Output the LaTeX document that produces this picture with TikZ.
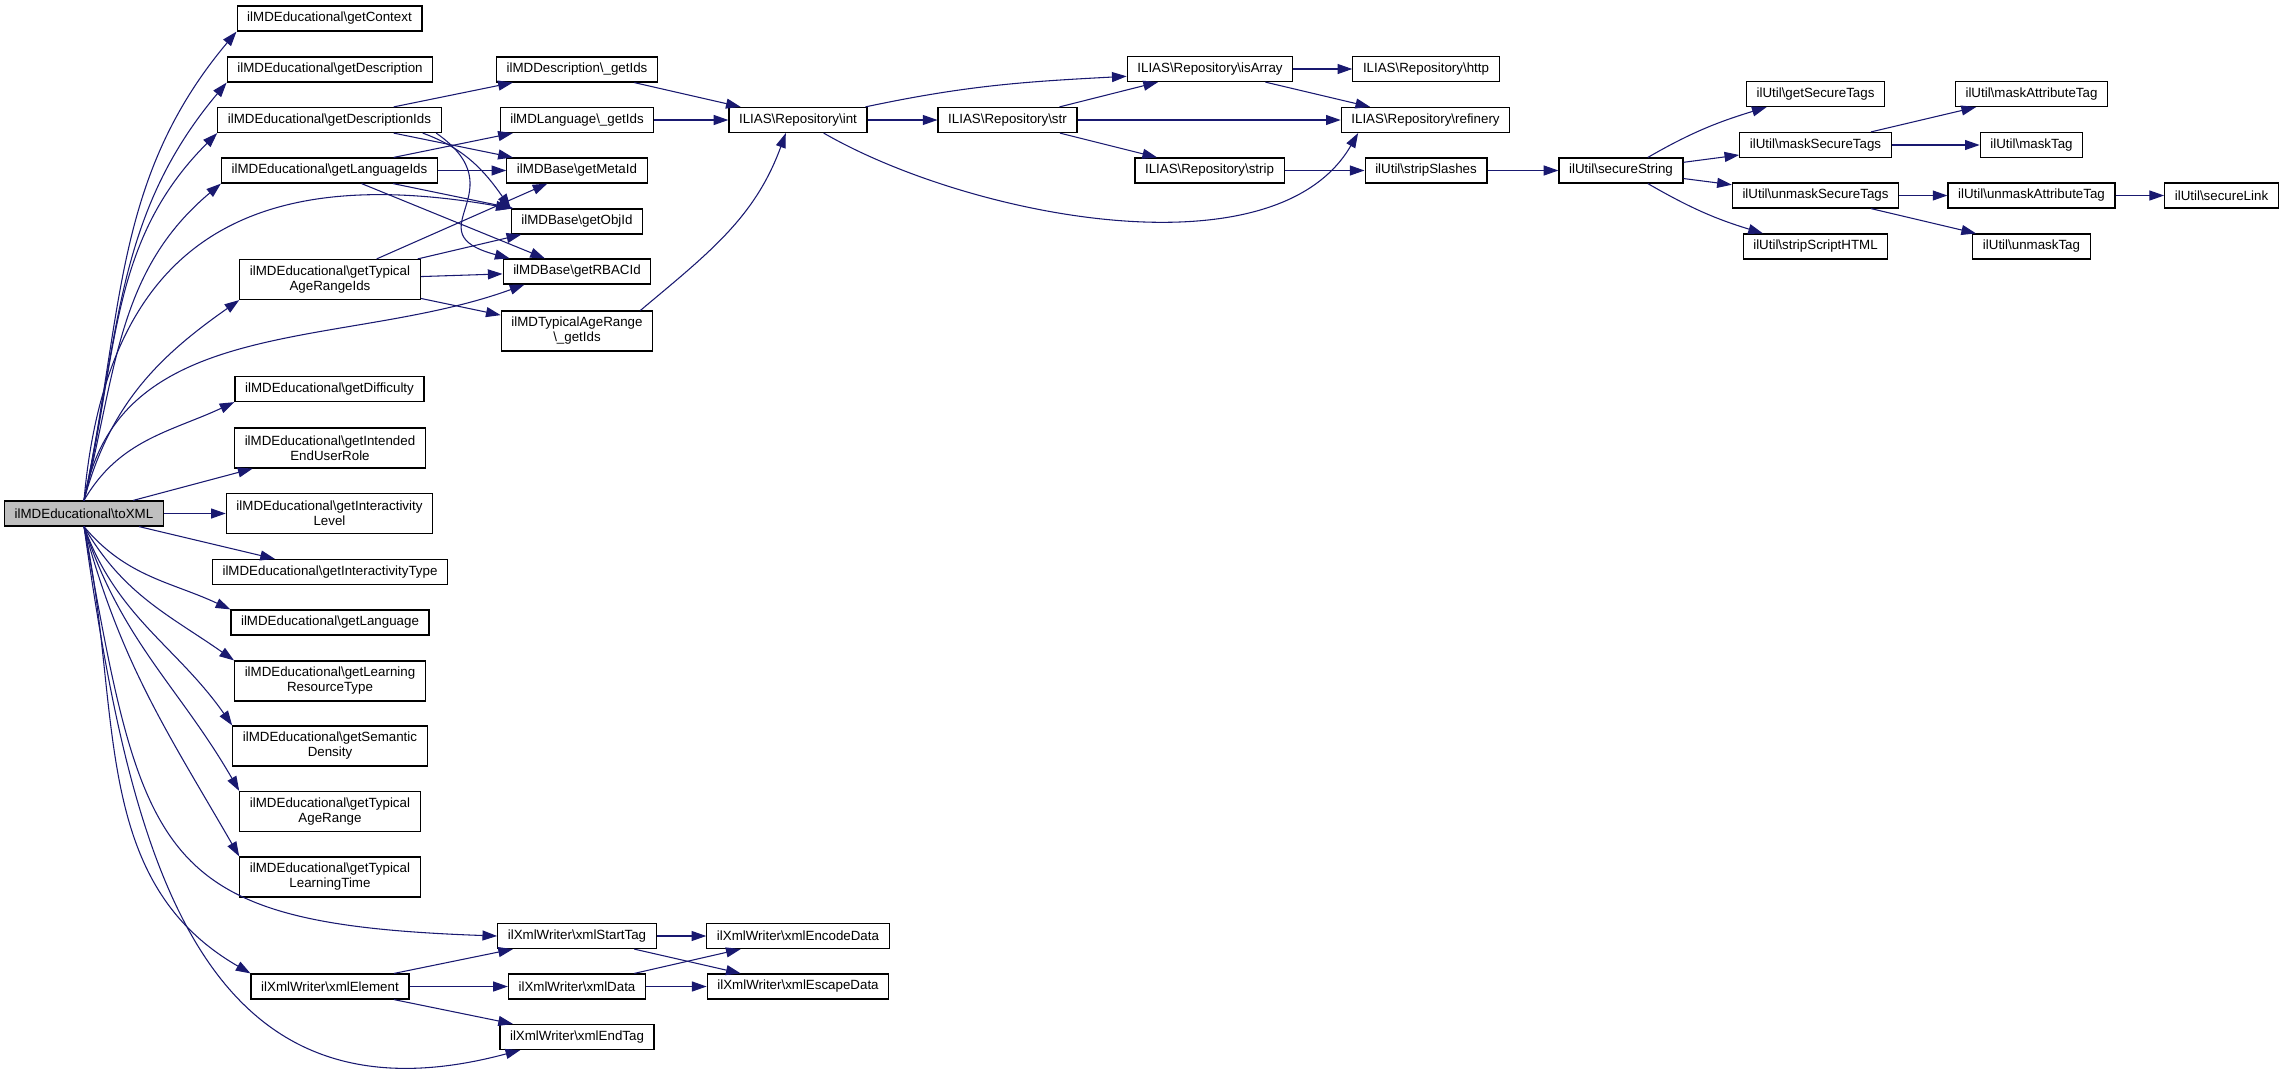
\documentclass[tikz,border=0pt]{standalone}
\usepackage{fontspec}
\setmainfont{Liberation Sans}
\usetikzlibrary{arrows.meta}
\definecolor{edgeblue}{RGB}{25,25,112}
\definecolor{hlgray}{RGB}{191,191,191}
\newcommand{\bsl}{\textbackslash}

\begin{document}
\begin{tikzpicture}[x=0.75pt, y=0.75pt,
    fn/.style={draw, fill=white, line width=0.9pt, inner xsep=7.6pt, inner ysep=0pt,
      minimum height=18.75pt, align=center, font=\fontsize{10}{11.25}\selectfont},
    fn2/.style={fn, minimum height=30pt},
    hl/.style={fn, fill=hlgray},
    call/.style={draw=edgeblue, line width=0.8pt, -{Triangle[length=11pt,width=7.5pt]}}]
    \useasboundingbox (0,0) rectangle (2285,-1072);

    \node [hl] (toxml) at (84,-513.5) {ilMDEducational\bsl toXML};

    \node [fn] (ctx) at (329.5,-18.5) {ilMDEducational\bsl getContext};
    \node [fn] (desc) at (330,-69.5) {ilMDEducational\bsl getDescription};
    \node [fn] (descids) at (329.5,-120) {ilMDEducational\bsl getDescriptionIds};
    \node [fn] (langids) at (329.5,-170.5) {ilMDEducational\bsl getLanguageIds};
    \node [fn2] (tarids) at (330,-279.5) {ilMDEducational\bsl getTypical\\AgeRangeIds};
    \node [fn] (diff) at (329.5,-389) {ilMDEducational\bsl getDifficulty};
    \node [fn2] (role) at (330,-448) {ilMDEducational\bsl getIntended\\EndUserRole};
    \node [fn2] (ilevel) at (329.5,-513.5) {ilMDEducational\bsl getInteractivity\\Level};
    \node [fn] (itype) at (330,-572) {ilMDEducational\bsl getInteractivityType};
    \node [fn] (lang) at (330,-622.5) {ilMDEducational\bsl getLanguage};
    \node [fn2] (lrt) at (330,-681) {ilMDEducational\bsl getLearning\\ResourceType};
    \node [fn2] (sem) at (330,-746) {ilMDEducational\bsl getSemantic\\Density};
    \node [fn2] (tar) at (330,-811.5) {ilMDEducational\bsl getTypical\\AgeRange};
    \node [fn2] (tlt) at (330,-877) {ilMDEducational\bsl getTypical\\LearningTime};
    \node [fn] (xmlel) at (330,-986.5) {ilXmlWriter\bsl xmlElement};

    \node [fn] (descget) at (577,-69.5) {ilMDDescription\bsl\_getIds};
    \node [fn] (langget) at (577,-120) {ilMDLanguage\bsl\_getIds};
    \node [fn] (metaid) at (577,-170.5) {ilMDBase\bsl getMetaId};
    \node [fn] (objid) at (577,-221.5) {ilMDBase\bsl getObjId};
    \node [fn] (rbacid) at (577,-271.5) {ilMDBase\bsl getRBACId};
    \node [fn2] (targe) at (577,-331) {ilMDTypicalAgeRange\\\bsl\_getIds};
    \node [fn] (starttag) at (577,-936) {ilXmlWriter\bsl xmlStartTag};
    \node [fn] (xmldata) at (577,-986.5) {ilXmlWriter\bsl xmlData};
    \node [fn] (endtag) at (577,-1037) {ilXmlWriter\bsl xmlEndTag};

    \node [fn] (int) at (798,-120) {ILIAS\bsl Repository\bsl int};
    \node [fn] (encode) at (798,-936) {ilXmlWriter\bsl xmlEncodeData};
    \node [fn] (escape) at (798,-986.5) {ilXmlWriter\bsl xmlEscapeData};
    \node [fn] (str) at (1007.5,-120) {ILIAS\bsl Repository\bsl str};
    \node [fn] (isarray) at (1210,-69) {ILIAS\bsl Repository\bsl isArray};
    \node [fn] (strip) at (1209.5,-170.5) {ILIAS\bsl Repository\bsl strip};
    \node [fn] (http) at (1426,-69) {ILIAS\bsl Repository\bsl http};
    \node [fn] (refinery) at (1425.5,-120) {ILIAS\bsl Repository\bsl refinery};
    \node [fn] (slashes) at (1426,-170.5) {ilUtil\bsl stripSlashes};
    \node [fn] (secstr) at (1621,-170.5) {ilUtil\bsl secureString};

    \node [fn] (gettags) at (1815.5,-94) {ilUtil\bsl getSecureTags};
    \node [fn] (masktags) at (1815.5,-145) {ilUtil\bsl maskSecureTags};
    \node [fn] (unmasktags) at (1815.5,-195.5) {ilUtil\bsl unmaskSecureTags};
    \node [fn] (scripthtml) at (1815.5,-246.5) {ilUtil\bsl stripScriptHTML};
    \node [fn] (maskattr) at (2031.5,-94) {ilUtil\bsl maskAttributeTag};
    \node [fn] (masktag) at (2031.5,-145) {ilUtil\bsl maskTag};
    \node [fn] (unmaskattr) at (2031.5,-195.5) {ilUtil\bsl unmaskAttributeTag};
    \node [fn] (unmasktag) at (2031.5,-246.5) {ilUtil\bsl unmaskTag};
    \node [fn] (securelink) at (2221.5,-195.5) {ilUtil\bsl secureLink};

    % calls of toXML
    \draw [call] (toxml.north) to[out=78,in=-130] (ctx.south west);
    \draw [call] (toxml.north) to[out=78,in=-130] (desc.south west);
    \draw [call] (toxml.north) to[out=77,in=-135] (descids.south west);
    \draw [call] (toxml.north) to[out=76,in=-140] (langids.south west);
    \draw [call] (toxml.north) to[out=85,in=170,looseness=1.3] (objid.north west);
    \draw [call] (toxml.north) to[out=75,in=-145] (tarids.south west);
    \draw [call] (toxml.north) to[out=80,in=-160] (rbacid.194);
    \draw [call] (toxml.north) to[out=60,in=-155] (diff.south west);
    \draw [call] (toxml) -- (role);
    \draw [call] (toxml) -- (ilevel);
    \draw [call] (toxml) -- (itype);
    \draw [call] (toxml.south) to[out=-50,in=155] (lang.north west);
    \draw [call] (toxml.south) to[out=-60,in=145] (lrt.north west);
    \draw [call] (toxml.south) to[out=-70,in=125] (sem.north west);
    \draw [call] (toxml.south) to[out=-72,in=120] (tar.north west);
    \draw [call] (toxml.south) to[out=-75,in=120] (tlt.north west);
    \draw [call] (toxml.south) to[out=-80,in=178,looseness=1.5] (starttag.west);
    \draw [call] (toxml.south) to[out=-78,in=150] (xmlel.north west);
    \draw [call] (toxml.south) to[out=-82,in=-165,looseness=1.25] (endtag.193);

    \draw [call] (descids) -- (descget);
    \draw [call] (descids) -- (metaid);
    \draw [call] (descids.-8) to[out=-20,in=125] (objid.north west);
    \draw [call] (descids.-7) to[out=-35,in=165,looseness=1.8] (rbacid.169);
    \draw [call] (langids) -- (langget);
    \draw [call] (langids) -- (metaid);
    \draw [call] (langids) -- (objid);
    \draw [call] (langids) -- (rbacid);
    \draw [call] (tarids) -- (metaid);
    \draw [call] (tarids) -- (objid);
    \draw [call] (tarids) -- (rbacid);
    \draw [call] (tarids) -- (targe);

    \draw [call] (descget) -- (int);
    \draw [call] (langget) -- (int);
    \draw [call] (targe.18) to[out=40,in=-110] (int.-133);
    \draw [call] (int.11) to[out=12,in=183] (isarray.185);
    \draw [call] (int) -- (str);
    \draw [call] (int.-27) to[out=-30,in=-120,looseness=0.8] (refinery.191);
    \draw [call] (str) -- (isarray);
    \draw [call] (str) -- (refinery);
    \draw [call] (str) -- (strip);
    \draw [call] (isarray) -- (http);
    \draw [call] (isarray) -- (refinery);
    \draw [call] (strip) -- (slashes);
    \draw [call] (slashes) -- (secstr);

    \draw [call] (secstr.26) to[out=30,in=-163] (gettags.195);
    \draw [call] (secstr) -- (masktags);
    \draw [call] (secstr) -- (unmasktags);
    \draw [call] (secstr.-26) to[out=-30,in=163] (scripthtml.166);
    \draw [call] (masktags) -- (maskattr);
    \draw [call] (masktags) -- (masktag);
    \draw [call] (unmasktags) -- (unmaskattr);
    \draw [call] (unmasktags) -- (unmasktag);
    \draw [call] (unmaskattr) -- (securelink);

    \draw [call] (xmlel) -- (starttag);
    \draw [call] (xmlel) -- (xmldata);
    \draw [call] (xmlel) -- (endtag);
    \draw [call] (starttag) -- (encode);
    \draw [call] (starttag) -- (escape);
    \draw [call] (xmldata) -- (encode);
    \draw [call] (xmldata) -- (escape);
\end{tikzpicture}
\end{document}
